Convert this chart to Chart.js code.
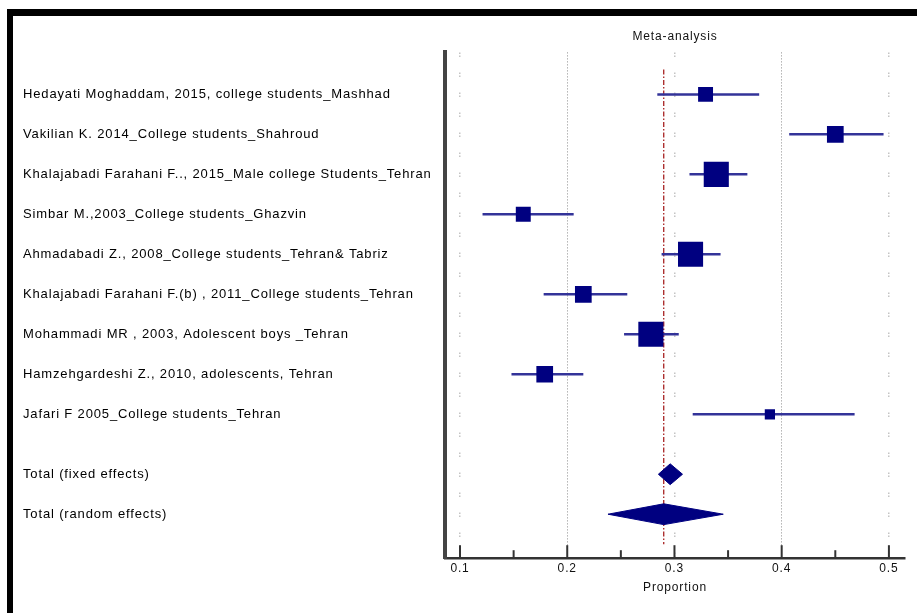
<!DOCTYPE html>
<html>
<head>
<meta charset="utf-8">
<script src="https://cdn.jsdelivr.net/npm/chart.js@4.4.1/dist/chart.umd.min.js"></script>
<style>
  html, body { margin: 0; padding: 0; background: #fff; }
  #frame { position: absolute; left: 7px; top: 9px; right: 0; bottom: 0; border-top: 7px solid #000; border-left: 6px solid #000; }
  #wrap { position: absolute; left: 0; top: 0; width: 917px; height: 613px; }
</style>
</head>
<body>
<div id="frame"></div>
<div id="wrap"><canvas id="forest" width="917" height="613"></canvas></div>
<script>
// study rows
const studies = [
  'Hedayati Moghaddam, 2015, college students_Mashhad',
  'Vakilian K. 2014_College students_Shahroud',
  'Khalajabadi Farahani F.., 2015_Male college Students_Tehran',
  'Simbar M.,2003_College students_Ghazvin',
  'Ahmadabadi Z., 2008_College students_Tehran& Tabriz',
  'Khalajabadi Farahani F.(b) , 2011_College students_Tehran',
  'Mohammadi MR , 2003, Adolescent boys _Tehran',
  'Hamzehgardeshi Z., 2010, adolescents, Tehran',
  'Jafari F 2005_College students_Tehran'
];
const proportion = [0.329, 0.450, 0.339, 0.159, 0.315, 0.215, 0.278, 0.179, 0.389];
const ciLow      = [0.284, 0.407, 0.314, 0.121, 0.288, 0.178, 0.253, 0.148, 0.317];
const ciHigh     = [0.379, 0.495, 0.368, 0.206, 0.343, 0.256, 0.304, 0.215, 0.468];
const weights    = [6.8, 8.5, 19.2, 6.8, 19.2, 8.5, 19.2, 8.5, 3.2];

// pooled estimates
const pooledLabels = ['Total (fixed effects)', 'Total (random effects)'];
const pooledEst  = [0.296, 0.290];
const pooledLow  = [0.285, 0.238];
const pooledHigh = [0.3075, 0.3455];

// row positions on the y axis (gap before the totals)
const rowPos = [0, 1, 2, 3, 4, 5, 6, 7, 8, 9.5, 10.5];
const rowLabels = studies.concat(pooledLabels);

const xTicks = [0.1, 0.15, 0.2, 0.25, 0.3, 0.35, 0.4, 0.45, 0.5];
const xTickLabels = ['0.1', '', '0.2', '', '0.3', '', '0.4', '', '0.5'];

const NAVY = '#000080';
const CI_COLOR = '#333399';
const boxK = 4.05;       // px of point radius per sqrt(weight)
const diamondHalf = 0.26; // half height of pooled diamonds, in row units

// CI segments, broken by nulls
const ciData = [];
studies.forEach((s, i) => {
  ciData.push({ x: ciLow[i], y: rowPos[i] }, { x: ciHigh[i], y: rowPos[i] }, { x: null, y: null });
});

const boxData = studies.map((s, i) => ({ x: proportion[i], y: rowPos[i] }));

const diamondSets = pooledLabels.map((lab, k) => {
  const y = rowPos[studies.length + k];
  return {
    type: 'line',
    label: lab,
    data: [
      { x: pooledLow[k], y: y },
      { x: pooledEst[k], y: y - diamondHalf },
      { x: pooledHigh[k], y: y },
      { x: pooledEst[k], y: y + diamondHalf },
      { x: pooledLow[k], y: y }
    ],
    showLine: true,
    borderColor: NAVY,
    borderWidth: 1,
    backgroundColor: NAVY,
    fill: 'shape',
    tension: 0,
    pointRadius: 0,
    order: 2
  };
});

const spacing = {
  id: 'spacing',
  beforeUpdate(chart) { chart.ctx.letterSpacing = '0.85px'; },
  beforeDraw(chart) { chart.ctx.letterSpacing = '0.85px'; }
};

// pooled estimate reference line (dash-dot, red)
const pooledLine = {
  id: 'pooledLine',
  beforeDatasetsDraw(chart) {
    const { ctx, chartArea, scales } = chart;
    const x = scales.x.getPixelForValue(pooledEst[1]);
    ctx.save();
    ctx.strokeStyle = '#a01010';
    ctx.lineWidth = 1.2;
    ctx.setLineDash([5, 2, 1.5, 2]);
    ctx.beginPath();
    ctx.moveTo(x, chartArea.top + 17);
    ctx.lineTo(x, chartArea.bottom - 14);
    ctx.stroke();
    ctx.restore();
  }
};

// tick marks pointing up into the plot
const innerTicks = {
  id: 'innerTicks',
  afterDraw(chart) {
    const { ctx, chartArea, scales } = chart;
    ctx.save();
    ctx.strokeStyle = '#333';
    ctx.lineWidth = 2;
    scales.x.ticks.forEach((t, i) => {
      const x = scales.x.getPixelForValue(t.value);
      const len = xTickLabels[i] ? 13 : 8;
      ctx.beginPath();
      ctx.moveTo(x, chartArea.bottom);
      ctx.lineTo(x, chartArea.bottom - len);
      ctx.stroke();
    });
    ctx.restore();
  }
};

function gridKind(c) {
  if (!c.tick) return 0;
  const v = Math.round(c.tick.value * 100);
  if (v === 20 || v === 40) return 2;
  if (v === 10 || v === 30 || v === 50) return 1;
  return 0;
}

new Chart(document.getElementById('forest'), {
  type: 'scatter',
  data: {
    datasets: [
      {
        label: 'Studies',
        data: boxData,
        pointStyle: 'rect',
        pointRadius: c => boxK * Math.sqrt(weights[c.dataIndex]),
        pointHoverRadius: c => boxK * Math.sqrt(weights[c.dataIndex]),
        backgroundColor: NAVY,
        borderWidth: 0,
        order: 1
      },
      {
        type: 'line',
        label: '95% CI',
        data: ciData,
        showLine: true,
        spanGaps: false,
        borderColor: CI_COLOR,
        borderWidth: 2.5,
        pointRadius: 0,
        fill: false,
        order: 3
      },
      ...diamondSets
    ]
  },
  options: {
    responsive: false,
    animation: false,
    layout: { autoPadding: false, padding: { left: 23, right: 12, top: 22, bottom: 14 } },
    plugins: {
      legend: { display: false },
      tooltip: { enabled: false },
      title: {
        display: true,
        text: 'Meta-analysis',
        fullSize: false,
        color: '#111',
        font: { family: 'Liberation Sans', size: 12, weight: 'normal' },
        padding: { top: 7, bottom: 9 }
      }
    },
    scales: {
      x: {
        type: 'linear',
        bounds: 'data',
        min: 0.086,
        max: 0.515,
        afterBuildTicks: s => { s.ticks = xTicks.map(v => ({ value: v })); },
        afterFit: s => { s.paddingLeft = 0; s.paddingRight = 0; },
        ticks: {
          callback: (v, i) => xTickLabels[i],
          autoSkip: false,
          maxRotation: 0,
          padding: 3,
          color: '#111',
          font: { family: 'Liberation Sans', size: 12 }
        },
        grid: {
          drawTicks: false,
          lineWidth: c => gridKind(c) === 1 ? 1.5 : 1,
          color: c => ['rgba(0,0,0,0)', '#c4c4c4', '#8c8c8c'][gridKind(c)]
        },
        border: {
          color: '#333',
          width: 2.5,
          dash: c => gridKind(c) === 1 ? [1.5, 1.5, 1.5, 15.5] : [1, 2]
        },
        title: {
          display: true,
          text: 'Proportion',
          color: '#111',
          font: { family: 'Liberation Sans', size: 12 },
          padding: { top: 2, bottom: 4 }
        }
      },
      y: {
        type: 'linear',
        reverse: true,
        bounds: 'data',
        min: -1.05,
        max: 11.6,
        afterBuildTicks: s => { s.ticks = rowPos.map(v => ({ value: v })); },
        afterFit: s => { s.width = 422; s.paddingTop = 0; s.paddingBottom = 0; },
        ticks: {
          callback: (v, i) => rowLabels[i],
          autoSkip: false,
          crossAlign: 'far',
          padding: 0,
          color: '#000',
          font: { family: 'Liberation Sans', size: 13 }
        },
        grid: { display: false, drawTicks: false },
        border: { display: true, color: '#444', width: 4 }
      }
    }
  },
  plugins: [spacing, pooledLine, innerTicks]
});
</script>
</body>
</html>
